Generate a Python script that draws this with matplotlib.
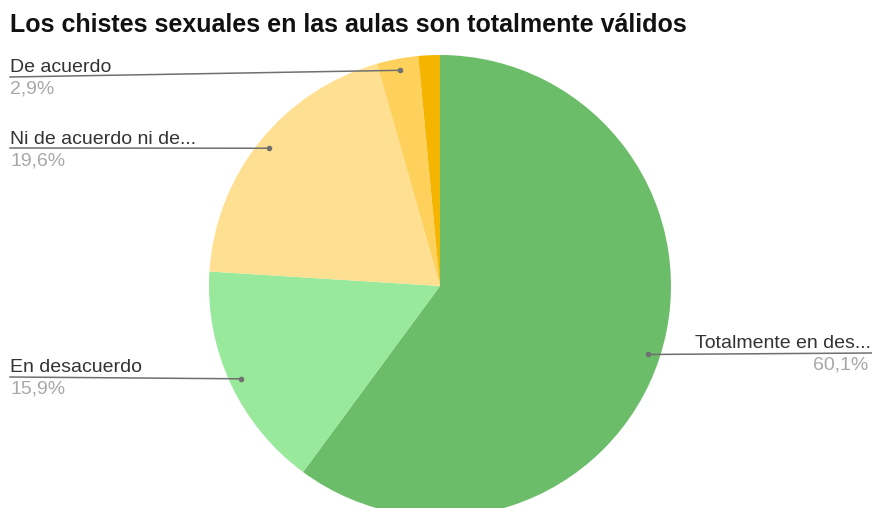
import numpy as np
import matplotlib
matplotlib.use("Agg")
import matplotlib.pyplot as plt

plt.rcParams["font.family"] = ["Liberation Sans", "DejaVu Sans"]

TITLE = "Los chistes sexuales en las aulas son totalmente válidos"
categories = ["Totalmente en desacuerdo", "En desacuerdo",
              "Ni de acuerdo ni desacuerdo", "De acuerdo", "Totalmente de acuerdo"]
short_labels = ["Totalmente en des...", "En desacuerdo", "Ni de acuerdo ni de...",
                "De acuerdo", None]
values = [60.1, 15.9, 19.6, 2.9, 1.5]
colors = ["#6cbd6a", "#98e99c", "#ffe093", "#fdd15c", "#f4b400"]

W, H = 872, 508
CX, CY, R = 440, 286, 231


def py(y):
    # pixel row (from top) -> data y
    return H - y


def main():
    fig = plt.figure(figsize=(W / 100, H / 100), dpi=100)
    ax = fig.add_axes([0, 0, 1, 1])
    ax.pie(values, colors=colors, startangle=90, counterclock=False,
           center=(CX, py(CY)), radius=R,
           wedgeprops=dict(linewidth=0))
    ax.set_xlim(0, W)
    ax.set_ylim(0, H)
    ax.set_aspect("equal")
    ax.axis("off")

    ax.text(10, py(32), TITLE, fontsize=18, fontweight="bold", color="#111111",
            ha="left", va="baseline")

    # label rows: (name baseline y, line y, side)
    label_pos = {
        0: (348, 353, "right"),
        1: (372, 377, "left"),
        2: (144, 148, "left"),
        3: (72, 77, "left"),
    }
    total = sum(values)
    cum = 0.0
    for i, v in enumerate(values):
        mid = 90 - 360 * (cum + v / 2) / total
        cum += v
        if short_labels[i] is None:
            continue
        dx = CX + 0.95 * R * np.cos(np.radians(mid))
        dy = py(CY) + 0.95 * R * np.sin(np.radians(mid))
        base, ly, side = label_pos[i]
        pct = f"{v:.1f}%".replace(".", ",")
        if side == "left":
            x0 = 10
            ax.plot([x0, dx], [py(ly), dy], color="#707070", lw=1.1)
            ax.text(x0, py(base), short_labels[i], fontsize=14, color="#333333",
                    ha="left", va="baseline")
            ax.text(x0, py(base + 21), pct, fontsize=14, color="#a8a8a8",
                    ha="left", va="baseline")
        else:
            x0 = 872
            ax.plot([dx, x0], [dy, py(ly)], color="#707070", lw=1.1)
            ax.text(x0 - 1, py(base), short_labels[i], fontsize=14, color="#333333",
                    ha="right", va="baseline")
            ax.text(x0 - 4, py(base + 21), pct, fontsize=14, color="#a8a8a8",
                    ha="right", va="baseline")
        ax.plot([dx], [dy], "o", color="#707070", ms=3)

    fig.savefig("out.png", dpi=100)
    plt.close(fig)


if __name__ == "__main__":
    main()
